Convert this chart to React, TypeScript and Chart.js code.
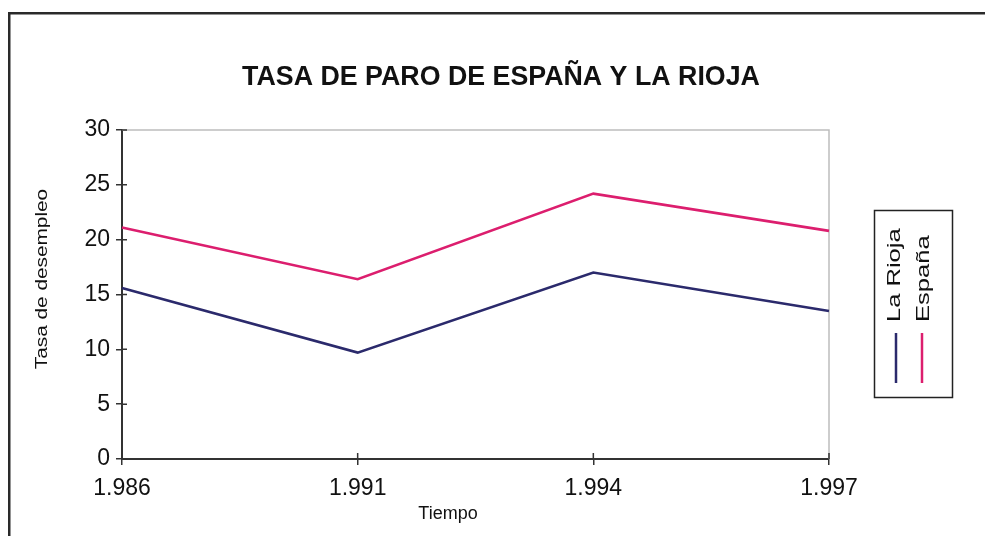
import React, { useEffect, useRef } from "react";
import { Chart, registerables } from "chart.js";

Chart.register(...registerables);

const categories = ["1.986", "1.991", "1.994", "1.997"];
const laRioja = [15.6, 9.7, 17.0, 13.5];
const espana = [21.1, 16.4, 24.2, 20.8];
const seriesNames = ["La Rioja", "España"];
const seriesColors = ["#2b2a6c", "#dc1e6e"];
const chartTitle = "TASA DE PARO DE ESPAÑA Y LA RIOJA";
const xTitle = "Tiempo";
const yTitle = "Tasa de desempleo";
const FONT = "'Liberation Sans', Arial, sans-serif";

const W = 985;
const H = 536;

const decorPlugin = {
  id: "decor",
  beforeDatasetsDraw(chart: any) {
    const { ctx, chartArea } = chart;
    ctx.save();
    ctx.strokeStyle = "#bdbdbd";
    ctx.lineWidth = 1.5;
    ctx.beginPath();
    ctx.moveTo(chartArea.left, chartArea.top);
    ctx.lineTo(chartArea.right, chartArea.top);
    ctx.lineTo(chartArea.right, chartArea.bottom);
    ctx.stroke();
    ctx.restore();
  },
  afterDraw(chart: any) {
    const { ctx, chartArea, scales } = chart;
    ctx.save();
    // inner halves of cross ticks
    ctx.strokeStyle = "#333";
    ctx.lineWidth = 1.5;
    ctx.beginPath();
    scales.y.ticks.forEach((t: any) => {
      const y = scales.y.getPixelForValue(t.value);
      ctx.moveTo(chartArea.left, y);
      ctx.lineTo(chartArea.left + 5, y);
    });
    categories.forEach((_c, i) => {
      const x = scales.x.getPixelForValue(i);
      ctx.moveTo(x, chartArea.bottom);
      ctx.lineTo(x, chartArea.bottom - 6);
    });
    ctx.stroke();

    // outer frame (top and left)
    ctx.fillStyle = "#2a2a2a";
    ctx.fillRect(8, 12, W - 8, 2.5);
    ctx.fillRect(8, 12, 2.5, H - 12);

    // title
    ctx.fillStyle = "#111";
    ctx.save();
    ctx.translate(501, 85);
    ctx.scale(1.03, 1.08);
    ctx.font = `bold 26px ${FONT}`;
    ctx.textAlign = "center";
    ctx.textBaseline = "alphabetic";
    ctx.fillText(chartTitle, 0, 0);
    ctx.restore();

    // x title
    ctx.font = `18px ${FONT}`;
    ctx.textAlign = "center";
    ctx.fillText(xTitle, 448, 519);

    // y title (rotated, stretched along its length)
    ctx.save();
    ctx.translate(47, 279);
    ctx.rotate(-Math.PI / 2);
    ctx.scale(1.3, 1);
    ctx.font = `16px ${FONT}`;
    ctx.textAlign = "center";
    ctx.textBaseline = "alphabetic";
    ctx.fillText(yTitle, 0, 0);
    ctx.restore();

    // legend box
    ctx.strokeStyle = "#222";
    ctx.lineWidth = 1.5;
    ctx.strokeRect(874.5, 210.5, 78, 187);
    const baseX = [900, 929];
    const lineX = [896, 922];
    chart.data.datasets.forEach((ds: any, i: number) => {
      ctx.save();
      ctx.translate(baseX[i], 322);
      ctx.rotate(-Math.PI / 2);
      ctx.scale(1.38, 1);
      ctx.font = `18.5px ${FONT}`;
      ctx.fillStyle = "#111";
      ctx.textAlign = "left";
      ctx.textBaseline = "alphabetic";
      ctx.fillText(ds.label, 0, 0);
      ctx.restore();
      ctx.strokeStyle = ds.borderColor;
      ctx.lineWidth = 2.5;
      ctx.beginPath();
      ctx.moveTo(lineX[i], 333);
      ctx.lineTo(lineX[i], 383);
      ctx.stroke();
    });
    ctx.restore();
  },
};

export default function App() {
  const ref = useRef<HTMLCanvasElement | null>(null);
  useEffect(() => {
    document.body.style.margin = "0";
    const canvas = ref.current;
    if (!canvas) return;
    const chart = new Chart(canvas, {
      type: "line",
      data: {
        labels: categories,
        datasets: [
          {
            label: seriesNames[0],
            data: laRioja,
            borderColor: seriesColors[0],
            backgroundColor: seriesColors[0],
            borderWidth: 2.6,
            pointRadius: 0,
            tension: 0,
          },
          {
            label: seriesNames[1],
            data: espana,
            borderColor: seriesColors[1],
            backgroundColor: seriesColors[1],
            borderWidth: 2.6,
            pointRadius: 0,
            tension: 0,
          },
        ],
      },
      options: {
        responsive: false,
        animation: false,
        devicePixelRatio: 1,
        layout: { padding: { left: 0, top: 130, right: 156, bottom: 17 } },
        plugins: {
          legend: { display: false },
          title: { display: false },
          tooltip: { enabled: false },
        },
        scales: {
          x: {
            type: "category",
            offset: false,
            grid: {
              display: true,
              drawOnChartArea: false,
              drawTicks: true,
              tickLength: 6,
              color: "#333",
              lineWidth: 1.5,
            },
            border: { display: true, color: "#333", width: 2 },
            ticks: {
              font: { family: FONT, size: 23 },
              color: "#111",
              padding: 10,
              maxRotation: 0,
              autoSkip: false,
            },
            afterFit: (s: any) => {
              s.height = 60;
            },
          },
          y: {
            min: 0,
            max: 30,
            grid: {
              display: true,
              drawOnChartArea: false,
              drawTicks: true,
              tickLength: 6,
              color: "#333",
              lineWidth: 1.5,
            },
            border: { display: true, color: "#333", width: 2 },
            ticks: {
              stepSize: 5,
              font: { family: FONT, size: 23 },
              color: "#111",
              padding: 6,
            },
            afterFit: (s: any) => {
              s.width = 122;
            },
          },
        },
      },
      plugins: [decorPlugin],
    });
    return () => chart.destroy();
  }, []);
  return (
    <div style={{ width: W, height: H, background: "#fff" }}>
      <canvas ref={ref} width={W} height={H} style={{ display: "block" }} />
    </div>
  );
}
